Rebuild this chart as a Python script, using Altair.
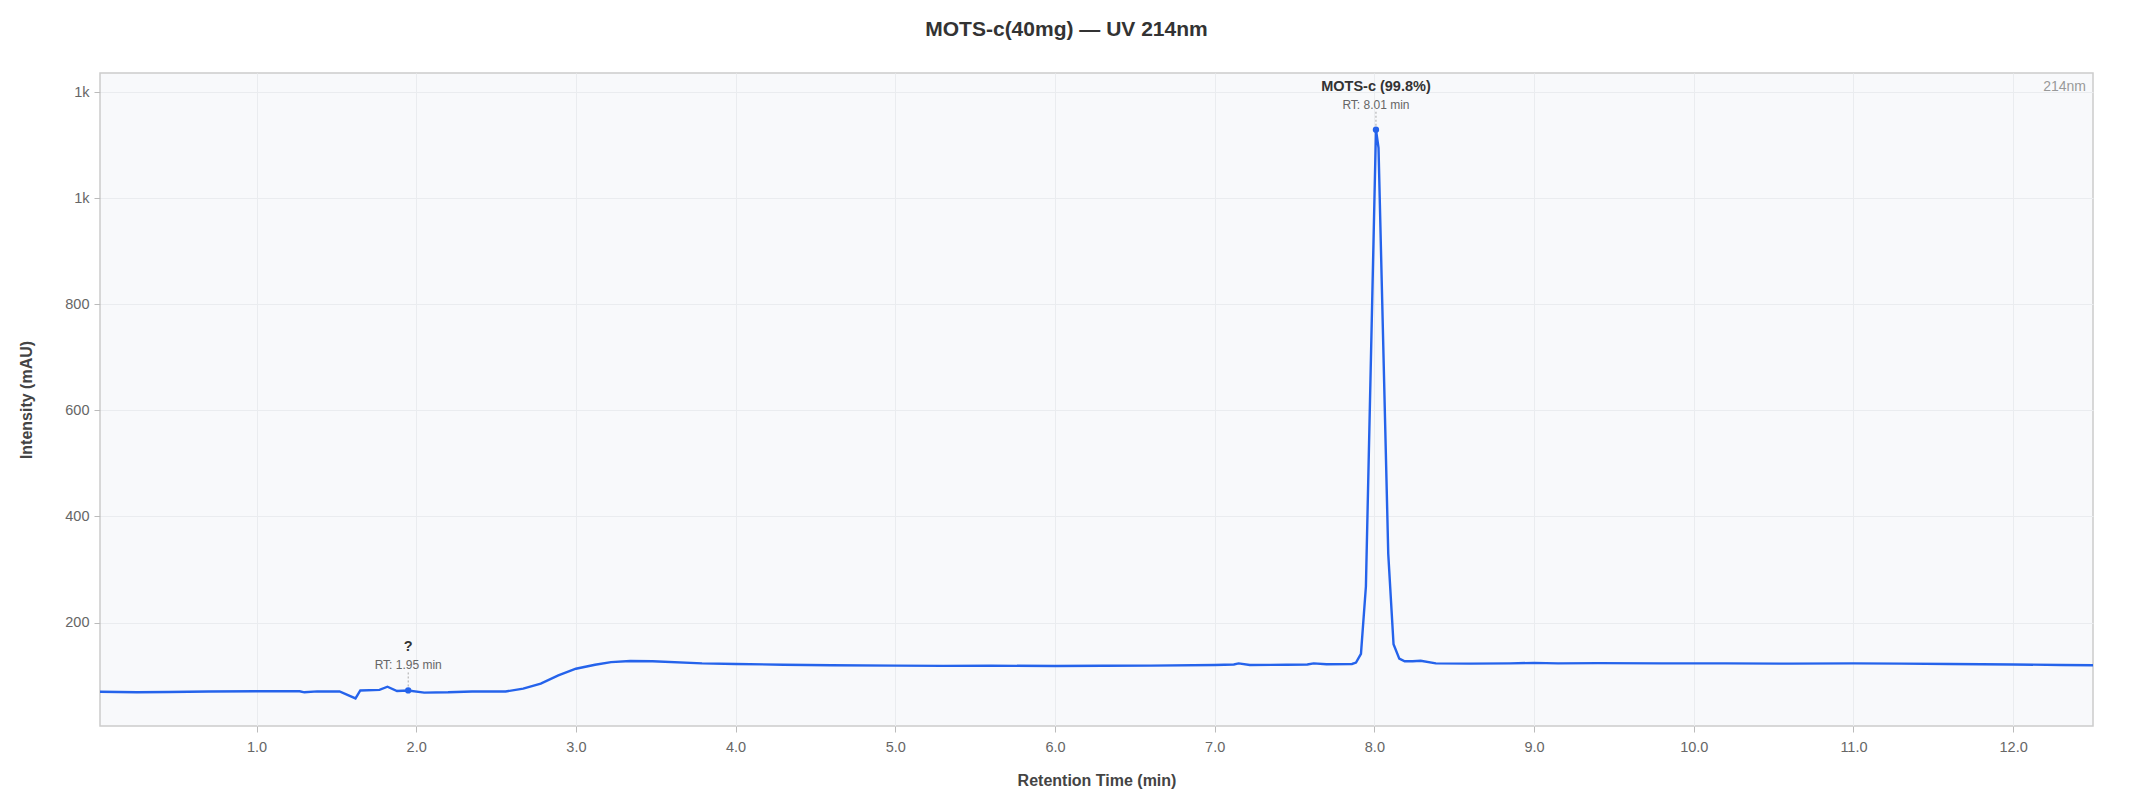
import altair as alt
import pandas as pd

# ---- data ----
rt = [0.02, 0.25, 0.45, 0.70, 1.00, 1.27, 1.30, 1.38, 1.52, 1.62, 1.65, 1.77, 1.82, 1.88,
      1.95, 2.05, 2.20, 2.35, 2.56, 2.67, 2.78, 2.89, 3.00, 3.12, 3.22, 3.34, 3.48, 3.79,
      4.00, 4.30, 4.60, 5.00, 5.30, 5.60, 6.00, 6.30, 6.60, 7.00, 7.12, 7.15, 7.22, 7.45,
      7.58, 7.62, 7.70, 7.86, 7.885, 7.916, 7.947, 8.01, 8.026, 8.087, 8.12, 8.156, 8.19,
      8.24, 8.29, 8.385, 8.60, 8.85, 9.00, 9.15, 9.40, 9.80, 10.20, 10.60, 11.00, 11.30,
      11.60, 12.00, 12.30, 12.50]
intensity = [69.5, 68.5, 69, 70, 70.5, 70.5, 68.5, 70.3, 70, 57, 72, 73, 79, 71,
             72, 68, 68.5, 70, 70, 75.5, 85, 100.5, 113, 120.5, 125.5, 127.5, 127, 123,
             122, 120.5, 119.5, 118.8, 118.4, 118.6, 118.2, 118.5, 118.8, 120, 121, 123, 120, 120.5,
             121, 123, 121.5, 122, 124.5, 141, 268, 1129, 1095, 329, 159, 132, 127,
             127, 128, 123, 122.5, 123, 124, 123, 123.5, 123, 123, 122.5, 123, 122.5,
             122, 121, 120, 119.5]

peak_rt = [1.95, 8.01]
peak_int = [72, 1129]
peak_name = ["?", "MOTS-c (99.8%)"]
peak_label = ["RT: 1.95 min", "RT: 8.01 min"]

x_ticks = [1, 2, 3, 4, 5, 6, 7, 8, 9, 10, 11, 12]
y_ticks = [200, 400, 600, 800, 1000, 1200]
wavelength = ["214nm"]

# ---- styling ----
W, H = 1993, 653
LINE = "#2563eb"
FONT = "Liberation Sans"

df = pd.DataFrame({"rt": rt, "intensity": intensity})
pk = pd.DataFrame({"rt": peak_rt, "intensity": peak_int,
                   "name": peak_name, "label": peak_label})

x = alt.X("rt:Q",
          scale=alt.Scale(domain=[0.02, 12.5], nice=False, zero=False),
          axis=alt.Axis(values=x_ticks, format=".1f", title="Retention Time (min)",
                        titleY=54, titleBaseline="middle",
                        labelPadding=8))
y = alt.Y("intensity:Q",
          scale=alt.Scale(domain=[5, 1236], nice=False, zero=False),
          axis=alt.Axis(values=y_ticks, format=".1s", title="Intensity (mAU)",
                        titleX=-74, titleY=H / 2, titleBaseline="middle",
                        labelPadding=5))

line = alt.Chart(df).mark_line(color=LINE, strokeWidth=2.4).encode(x=x, y=y)

rules = alt.Chart(pk).mark_rule(color="#aaaaaa", strokeWidth=1, strokeDash=[2, 2],
                                y2Offset=-18).encode(x=x, y=y, y2="intensity:Q")

dots = alt.Chart(pk).mark_point(filled=True, color=LINE, size=40, opacity=1).encode(x=x, y=y)

names = alt.Chart(pk).mark_text(font=FONT, fontSize=14.5, fontWeight="bold", color="#333333",
                                dy=-43, baseline="middle", align="center").encode(
    x=x, y=y, text="name:N")
labels = alt.Chart(pk).mark_text(font=FONT, fontSize=12, color="#666666",
                                 dy=-25, baseline="middle", align="center").encode(
    x=x, y=y, text="label:N")

wl = alt.Chart(pd.DataFrame({"t": wavelength})).mark_text(
    font=FONT, fontSize=14, color="#999999", align="right", baseline="middle").encode(
    text="t:N", x=alt.value(W - 7), y=alt.value(14))

chart = alt.layer(line, rules, dots, names, labels, wl).properties(
    width=W, height=H,
    title=alt.TitleParams(text="MOTS-c(40mg) — UV 214nm", font=FONT, fontSize=21,
                          fontWeight="bold", color="#333333", anchor="middle",
                          baseline="alphabetic", offset=16, dx=-30),
    autosize=alt.AutoSizeParams(type="none"),
    padding={"left": 92, "top": 65, "right": 32, "bottom": 66},
).configure_view(
    fill="#f8f9fb", stroke="#cccccc", strokeWidth=1.5
).configure_axis(
    domain=False, grid=True, gridColor="#eaecef", gridWidth=1,
    tickColor="#bbbbbb", tickSize=6, tickWidth=1,
    labelFont=FONT, labelFontSize=14.5, labelColor="#666666",
    titleFont=FONT, titleFontSize=16, titleFontWeight="bold", titleColor="#444444",
)

chart.save("out.html", embed_options={"renderer": "svg", "actions": False})
